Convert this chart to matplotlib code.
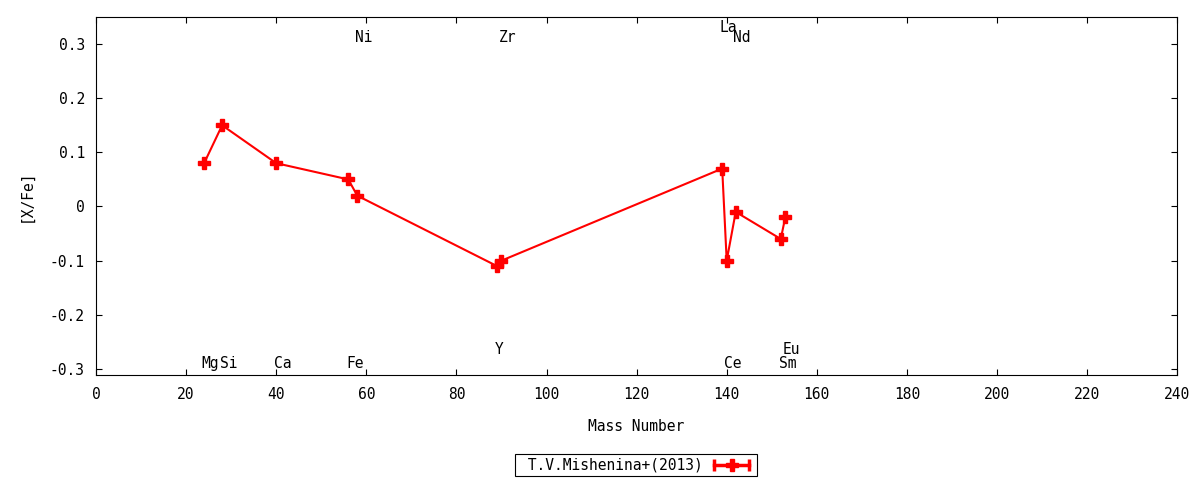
import matplotlib
matplotlib.use("Agg")
import matplotlib.pyplot as plt
from matplotlib.ticker import FuncFormatter
from matplotlib.lines import Line2D
from matplotlib.legend_handler import HandlerLine2D, HandlerTuple

plt.rcParams["font.family"] = ["DejaVu Sans Mono"]
plt.rcParams["font.size"] = 10

# data
elements = ["Mg", "Si", "Ca", "Fe", "Ni", "Y", "Zr", "La", "Ce", "Nd", "Sm", "Eu"]
mass = [24, 28, 40, 56, 58, 89, 90, 139, 140, 142, 152, 153]
xfe = [0.08, 0.15, 0.08, 0.05, 0.02, -0.11, -0.10, 0.07, -0.10, -0.01, -0.06, -0.02]
# where each element name sits: "top"/"bottom", and whether it's bumped
label_side = ["bottom", "bottom", "bottom", "bottom", "top", "bottom",
              "top", "top", "bottom", "top", "bottom", "bottom"]
label_bump = [0, 0, 0, 0, 0, 1, 0, 1, 0, 0, 0, 1]
series_name = "T.V.Mishenina+(2013)"

fig = plt.figure(figsize=(12, 4.8), dpi=100)
ax = fig.add_axes([0.08, 0.219, 0.901, 0.7456])

ax.plot(mass, xfe, color="red", lw=1.5, marker="P", ms=8,
        mec="red", mfc="red")

for el, m, side, bump in zip(elements, mass, label_side, label_bump):
    if side == "top":
        y = 0.313 + 0.018 * bump
    else:
        y = -0.29 + 0.026 * bump
    ax.text(m - 0.5, y, el, ha="left", va="center", fontsize=10.5)

ax.set_xlim(0, 240)
ax.set_ylim(-0.311, 0.35)
ax.set_xticks(range(0, 241, 20))
ax.set_yticks([-0.3, -0.2, -0.1, 0, 0.1, 0.2, 0.3])
ax.yaxis.set_major_formatter(FuncFormatter(lambda v, p: "0" if abs(v) < 1e-9 else f"{v:.1f}"))
ax.tick_params(direction="in", top=True, right=True, length=4, width=0.8, labelsize=10.5)
ax.tick_params(axis="x", pad=9)
ax.tick_params(axis="y", pad=8)
for s in ax.spines.values():
    s.set_linewidth(0.8)

ax.set_xlabel("Mass Number", fontsize=10.5, labelpad=12)
ax.set_ylabel("[X/Fe]", fontsize=10.5, labelpad=12)

# gnuplot style key sample: line with end caps and a point in the middle
caps = Line2D([], [], color="red", lw=2.5, marker="|", ms=9, mew=2.5)
plus = Line2D([], [], color="red", lw=0, marker="P", ms=8)
leg = fig.legend([(caps, plus)], [" " + series_name], loc="center",
                 bbox_to_anchor=(0.53, 0.031), markerfirst=False,
                 handler_map={caps: HandlerLine2D(numpoints=2),
                              plus: HandlerLine2D(numpoints=1),
                              tuple: HandlerTuple(ndivide=1)},
                 fancybox=False, framealpha=1, edgecolor="black", fontsize=10.5,
                 handlelength=3.0, borderpad=0.25, handletextpad=0.5)
leg.get_frame().set_linewidth(0.8)

fig.savefig("out.png", dpi=100)
